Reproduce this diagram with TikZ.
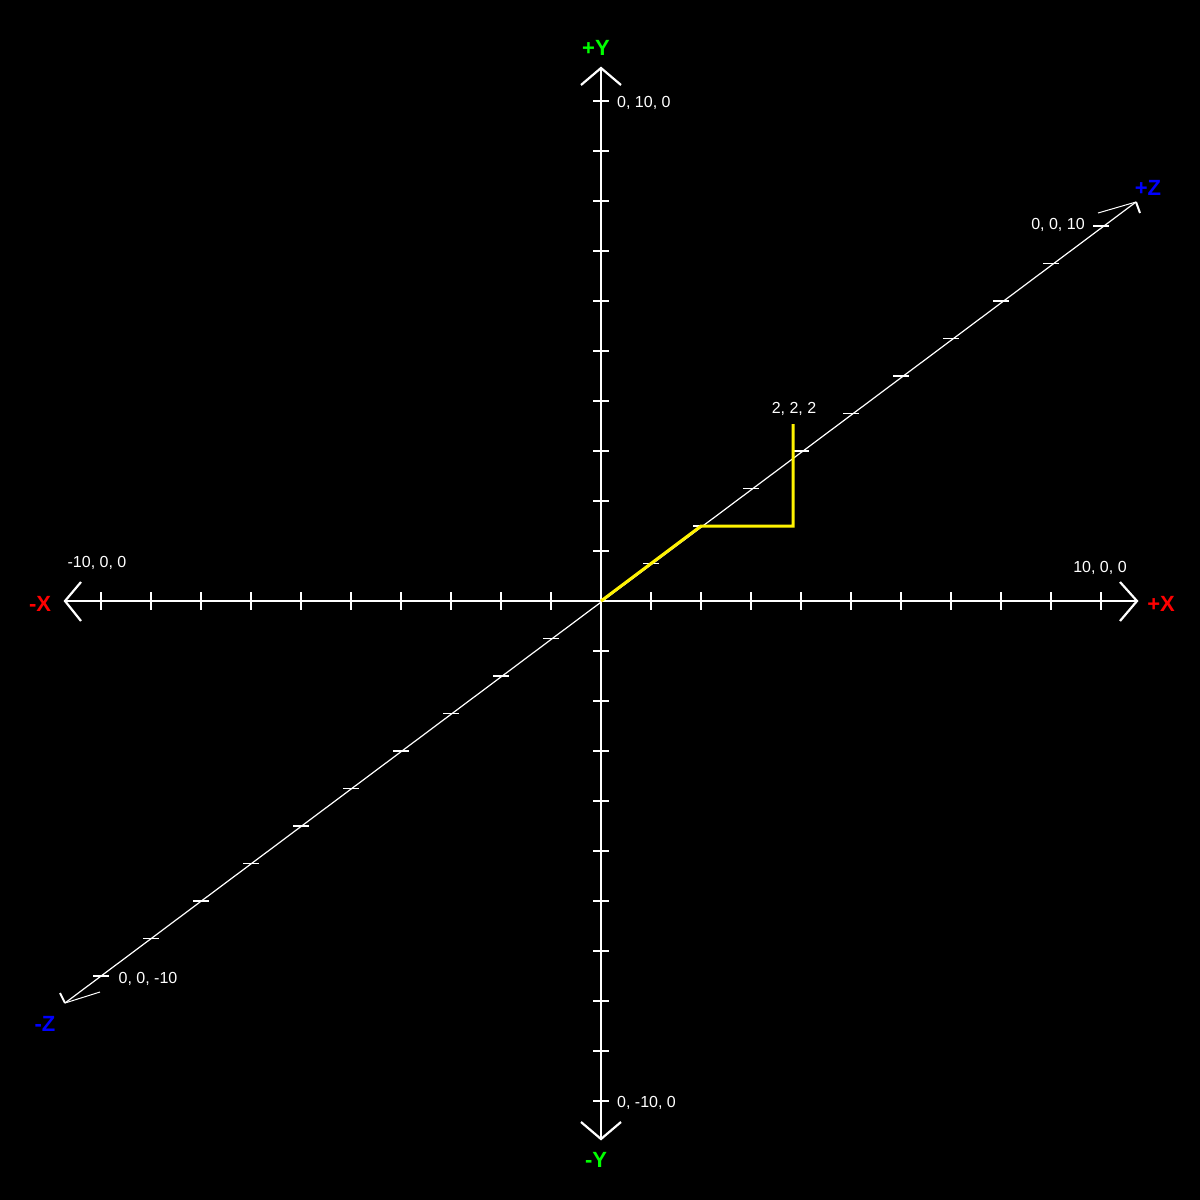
\documentclass[tikz,border=0pt]{standalone}
\usepackage{fontspec}
\setmainfont{Liberation Sans}
\begin{document}
\begin{tikzpicture}[x=1pt,y=-1pt,
  axisline/.style={white,line width=2.2pt},
  zline/.style={white,line width=1.2pt},
  tickmark/.style={white,line width=2.2pt},
  ztick/.style={white,line width=1.5pt},
  pathline/.style={yellow,line width=3pt,line join=miter},
  coordlabel/.style={white,anchor=base,inner sep=0pt,font=\fontsize{16}{16}\selectfont},
  axislabel/.style={anchor=base,inner sep=0pt,font=\fontsize{22}{22}\selectfont\bfseries}]
\fill[black] (0,0) rectangle (1200,1200);
\useasboundingbox (0,0) rectangle (1200,1200);
% key points
\coordinate (O) at (601,601);
\coordinate (xp) at (1137,601);
\coordinate (xm) at (65,601);
\coordinate (yp) at (601,68);
\coordinate (ym) at (601,1139);
\coordinate (zp) at (1136,202);
\coordinate (zm) at (65,1003);
% axes
\draw[axisline] (xm) -- (xp);
\draw[axisline] (ym) -- (yp);
\draw[zline] (zm) -- (zp);
% arrowheads
\draw[axisline] (1120,582) -- (xp) -- (1120,621);
\draw[axisline] (81,582) -- (xm) -- (81,621);
\draw[axisline] (581,85) -- (yp) -- (621,85);
\draw[axisline] (581,1122) -- (ym) -- (621,1122);
\draw[white,line width=1pt] (1098,213) -- (zp);
\draw[white,line width=2pt] (zp) -- (1140,213);
\draw[white,line width=1pt] (100,992) -- (zm);
\draw[white,line width=2pt] (zm) -- (60,993);
% ticks
\foreach \k in {-10,...,-1,1,2,...,10} {
  \draw[tickmark] (601+50*\k,592) -- (601+50*\k,610);
  \draw[tickmark] (593,601-50*\k) -- (609,601-50*\k);
  \draw[ztick] (601+50*\k-8,601-37.5*\k) -- (601+50*\k+8,601-37.5*\k);
}
% yellow path
\coordinate (p1) at (701,526);
\coordinate (p2) at (793,526);
\coordinate (p3) at (793,424);
\draw[pathline] (O) -- (p1) -- (p2) -- (p3);
% labels
\node[coordlabel,anchor=base west] (l1) at (617,107.8) {0, 10, 0};
\node[coordlabel,anchor=base west] (l2) at (617,1107.8) {0, -10, 0};
\node[coordlabel] (l3) at (1100,572.8) {10, 0, 0};
\node[coordlabel] (l4) at (97,567.8) {-10, 0, 0};
\node[coordlabel] (l5) at (1058,229.8) {0, 0, 10};
\node[coordlabel] (l6) at (148,983.8) {0, 0, -10};
\node[coordlabel] (l7) at (794,413.8) {2, 2, 2};
\node[axislabel,green] (ly1) at (596,55) {+Y};
\node[axislabel,green] (ly2) at (596,1167) {-Y};
\node[axislabel,red] (lx1) at (1161,611) {+X};
\node[axislabel,red] (lx2) at (40,611) {-X};
\node[axislabel,blue] (lz1) at (1148,195) {+Z};
\node[axislabel,blue] (lz2) at (45,1031) {-Z};
\end{tikzpicture}
\end{document}
